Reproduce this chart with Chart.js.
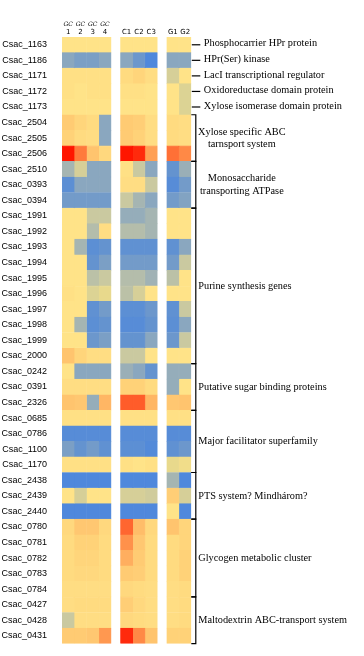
<!DOCTYPE html>
<html>
<head>
<meta charset="utf-8">
<script src="https://cdn.jsdelivr.net/npm/chart.js@4.4.0/dist/chart.umd.min.js"></script>
<style>
  html, body { margin: 0; padding: 0; background: #fff; }
  #wrap { width: 364px; height: 656px; position: relative; }
</style>
</head>
<body>
<div id="wrap"><canvas id="heat"></canvas></div>
<script>
const genes = [
  "Csac_1163", "Csac_1186", "Csac_1171", "Csac_1172", "Csac_1173",
  "Csac_2504", "Csac_2505", "Csac_2506",
  "Csac_2510", "Csac_0393", "Csac_0394",
  "Csac_1991", "Csac_1992", "Csac_1993", "Csac_1994", "Csac_1995",
  "Csac_1996", "Csac_1997", "Csac_1998", "Csac_1999", "Csac_2000",
  "Csac_0242", "Csac_0391", "Csac_2326",
  "Csac_0685", "Csac_0786", "Csac_1100", "Csac_1170",
  "Csac_2438", "Csac_2439", "Csac_2440",
  "Csac_0780", "Csac_0781", "Csac_0782", "Csac_0783", "Csac_0784",
  "Csac_0427", "Csac_0428", "Csac_0431"
];

// log ratios (blue = down, red = up)
const gc1 = [0, -2, 0.1, 0.1, 0, 0.8, 0.6, 3, -1.5, -2.7, -2.3, 0, 0, 0, 0, 0, 0.1, 0, 0, 0, 1, 0, 0.2, 1, 0.1, -2.8, -2.2, 0.1, -3, 0, -3, 0.4, 0.3, 0.3, 0.3, 0.2, 0.2, -1, 0.8];
const gc2 = [0, -2.2, 0.1, 0, 0, 0.5, 0.3, 2, -0.8, -2, -2.3, 0, 0, -1.5, 0, 0, 0, 0, -1.5, 0, 0.5, -2, 0.2, 0.9, 0.1, -2.8, -2.5, 0.1, -3, -0.8, -3, 0.9, 0.6, 0.5, 0.4, 0.2, 0.3, 0.2, 0.8];
const gc3 = [0, -2.2, 0.1, 0.1, 0, 0.3, 0.2, 1, -2, -2, -2.3, -1, -1.3, -2.7, -2.5, -1.2, -0.7, -2.6, -2.7, -2.4, 0.2, -2, 0.2, -1.8, 0.1, -2.8, -2.3, 0.1, -3, 0, -3, 0.9, 0.6, 0.5, 0.4, 0.2, 0.3, 0.2, 0.9];
const gc4 = [0, -2, 0.1, 0.1, 0, -2, -2, 0.4, -2, -2, -2.3, -1, 0.2, -2.5, -2.2, -1, -0.5, -2.3, -2.5, -2.2, 0.2, -2, 0.2, 1.2, 0.1, -2.8, -2.6, 0.1, -3, 0, -3, 0.4, 0.3, 0.3, 0.3, 0.2, 0.3, 0.2, 1.6];
const c1 = [0, -2, 0.3, 0.1, 0, 0.8, 0.8, 3, 0.1, 0.2, -1, -1.8, -1.3, -2.6, -2.3, -1.3, -1.2, -2.7, -2.8, -2.5, -1, -1.7, 0.6, 2.3, 0.1, -2.8, -2.7, 0.1, -3, -0.8, -3, 2.2, 1.7, 1.3, 0.8, 0.4, 0.7, 0.4, 2.8];
const c2 = [0, -2.4, 0.5, 0.1, 0, 0.7, 0.6, 2.8, -1, 0.2, -1.5, -1.8, -1.3, -2.6, -2.3, -1.3, -0.8, -2.7, -2.8, -2.5, -1, -2, 0.6, 2.3, 0.1, -2.8, -2.7, 0, -3, -0.8, -3, 1.1, 0.9, 0.8, 0.7, 0.3, 0.4, 0.3, 1.8];
const c3 = [0, -3, 0.2, 0, 0, 0.2, 0.2, 1.5, -2, -1, -2, -1.5, -1.5, -2.6, -2.3, -1.6, 0, -2.4, -2.5, -2, 0, -2.5, 0.3, 1.2, 0.1, -2.8, -2.9, 0.1, -3, -0.9, -3, 0.4, 0.3, 0.3, 0.3, 0.2, 0.2, 0.2, 1];
const g1 = [0, -2, -0.8, 0, 0, 0.3, 0.3, 2.1, -2.5, -2.8, -2.3, 0, 0, -2.6, -2.3, -1.2, 0, -2.6, -2.7, -2.4, 0, -1.8, -1.8, 0.9, 0.1, -2.8, -2.6, -0.5, -1.5, 0.7, 0, 1, 0.3, 0.3, 0.3, 0.2, 0.2, 0.2, 0.6];
const g2 = [0, -2, 0, -0.7, -0.7, 0.2, 0.2, 1.8, -1.7, -2.3, -2.1, 0, 0, -2, -1, 0, 0, -1, -2, -1, 0, -1.8, 0, 1, 0.1, -2.8, -2.4, -0.3, -3, -0.8, -3, 0.5, 0.5, 0.6, 0.6, 0.3, 0.3, 0.3, 0.6];

const columns = [gc1, gc2, gc3, gc4, c1, c2, c3, g1, g2];
const columnBlocks = [0, 0, 0, 0, 1, 1, 1, 2, 2];
const gcLabels = ["1", "2", "3", "4"];
const cLabels = ["C1", "C2", "C3"];
const gLabels = ["G1", "G2"];

const singleGenes = ["Csac_1163", "Csac_1186", "Csac_1171", "Csac_1172", "Csac_1173"];
const singleLabels = [
  "Phosphocarrier HPr protein",
  "HPr(Ser) kinase",
  "LacI transcriptional regulator",
  "Oxidoreductase domain protein",
  "Xylose isomerase domain protein"
];
const groupFirst = ["Csac_2504", "Csac_2510", "Csac_1991", "Csac_0242", "Csac_0685", "Csac_2438", "Csac_0780", "Csac_0427"];
const groupLast = ["Csac_2506", "Csac_0394", "Csac_2000", "Csac_2326", "Csac_1170", "Csac_2440", "Csac_0784", "Csac_0431"];
const groupLabels = [
  ["Xylose specific ABC", "tarnsport system"],
  ["Monosaccharide", "transporting ATPase"],
  ["Purine synthesis genes"],
  ["Putative sugar binding proteins"],
  ["Major facilitator superfamily"],
  ["PTS system? Mindhárom?"],
  ["Glycogen metabolic cluster"],
  ["Maltodextrin ABC-transport system"]
];

// colour ramp
const stops = [
  [-3, [79, 136, 220]], [-2.5, [100, 147, 207]], [-2, [138, 167, 191]],
  [-1.5, [165, 181, 178]], [-1, [202, 201, 160]], [-0.5, [232, 217, 140]],
  [0, [255, 227, 136]], [0.5, [255, 213, 123]], [1, [255, 196, 110]],
  [1.5, [255, 160, 85]], [2, [255, 122, 60]], [2.5, [255, 72, 30]], [3, [255, 22, 0]]
];
function colorFor(v) {
  if (v <= stops[0][0]) return `rgb(${stops[0][1].join(",")})`;
  for (let i = 1; i < stops.length; i++) {
    if (v <= stops[i][0]) {
      const [a, ca] = stops[i - 1], [b, cb] = stops[i];
      const t = (v - a) / (b - a);
      const c = ca.map((x, k) => Math.round(x + (cb[k] - x) * t));
      return `rgb(${c.join(",")})`;
    }
  }
  return `rgb(${stops[stops.length - 1][1].join(",")})`;
}

// column x extents in the x-scale units
const COL_W = 12.3, GAP = 9.4;
function colStart(i) {
  return i * COL_W + columnBlocks[i] * GAP;
}
const xMax = colStart(columns.length - 1) + COL_W;

const datasets = columns.map((vals, ci) => ({
  data: genes.map(() => [colStart(ci), colStart(ci) + COL_W]),
  backgroundColor: (ctx) => colorFor(vals[ctx.dataIndex]),
  borderColor: (ctx) => colorFor(vals[ctx.dataIndex]),
  borderWidth: 0.6,
  borderSkipped: false,
  grouped: false,
  barPercentage: 1,
  categoryPercentage: 1
}));

const annotations = {
  id: "annotations",
  afterDraw(chart) {
    const { ctx, chartArea } = chart;
    const x = chart.scales.x, y = chart.scales.y;
    const rowH = y.getPixelForValue(1) - y.getPixelForValue(0);
    ctx.save();
    ctx.fillStyle = "#000";
    ctx.strokeStyle = "#000";

    // column headers
    ctx.textAlign = "center";
    ctx.textBaseline = "alphabetic";
    const headers = [...gcLabels, ...cLabels, ...gLabels];
    headers.forEach((h, i) => {
      const cx = x.getPixelForValue(colStart(i) + COL_W / 2);
      ctx.font = "7px 'DejaVu Sans'";
      ctx.fillText(h, cx, 34);
      if (i < 4) {
        ctx.font = "italic 6px 'DejaVu Serif'";
        ctx.fillText("GC", cx, 26);
      }
    });

    // single gene labels
    ctx.lineWidth = 1.2;
    ctx.font = "10.3px 'Liberation Serif'";
    ctx.textAlign = "left";
    ctx.textBaseline = "middle";
    singleGenes.forEach((g, i) => {
      const cy = y.getPixelForValue(genes.indexOf(g));
      ctx.beginPath();
      ctx.moveTo(chartArea.right + 0.5, cy);
      ctx.lineTo(chartArea.right + 9, cy);
      ctx.stroke();
      ctx.fillText(singleLabels[i], chartArea.right + 12.5, cy - 1);
    });

    // group brackets
    const bx = chartArea.right + 4.5;
    groupFirst.forEach((g, i) => {
      const top = y.getPixelForValue(genes.indexOf(g)) - rowH / 2;
      const bot = y.getPixelForValue(genes.indexOf(groupLast[i])) + rowH / 2;
      ctx.beginPath();
      ctx.moveTo(chartArea.right, top);
      ctx.lineTo(bx, top);
      ctx.lineTo(bx, bot);
      ctx.lineTo(chartArea.right, bot);
      ctx.stroke();
      const lines = groupLabels[i];
      const mid = (top + bot) / 2;
      if (lines.length > 1) {
        ctx.textAlign = "center";
        lines.forEach((t, k) => {
          ctx.fillText(t, bx + 46, mid - 6 + k * 12.5);
        });
      } else {
        ctx.textAlign = "left";
        ctx.fillText(lines[0], bx + 2.5, mid);
      }
    });
    ctx.restore();
  }
};

new Chart(document.getElementById("heat"), {
  type: "bar",
  data: { labels: genes, datasets },
  options: {
    indexAxis: "y",
    responsive: true,
    maintainAspectRatio: false,
    animation: false,
    events: [],
    layout: { padding: { top: 37, bottom: 10, left: 0, right: 172.7 } },
    plugins: { legend: { display: false }, tooltip: { enabled: false } },
    scales: {
      x: { type: "linear", min: 0, max: xMax, display: false },
      y: {
        type: "category",
        grid: { display: false },
        border: { display: false },
        afterFit: (scale) => { scale.width = 62; },
        ticks: {
          padding: 7,
          color: "#000",
          autoSkip: false,
          font: { family: "'Liberation Sans', Arial, sans-serif", size: 9 }
        }
      }
    }
  },
  plugins: [annotations]
});
</script>
</body>
</html>
